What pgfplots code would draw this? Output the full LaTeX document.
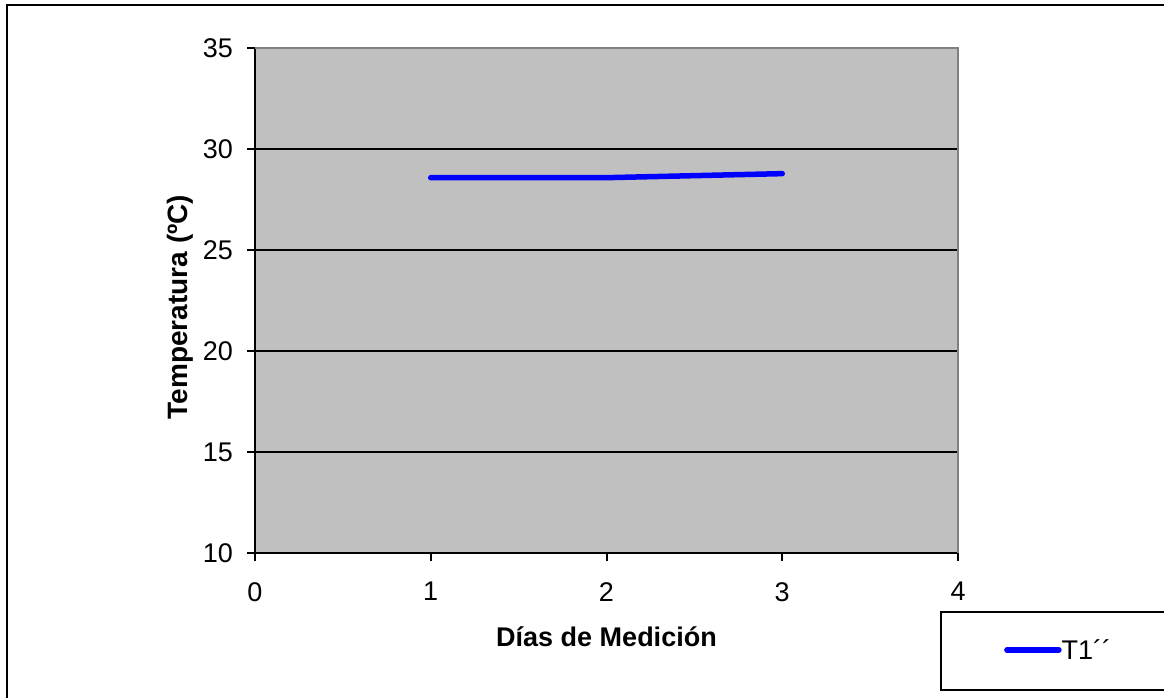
\documentclass[border=0pt]{standalone}
\usepackage{pgfplots}
\pgfplotsset{compat=1.18}
\usepackage{fontspec}
\setmainfont{Liberation Sans}
\definecolor{plotgray}{HTML}{C0C0C0}
\definecolor{bordergray}{HTML}{808080}
\begin{document}
\begin{tikzpicture}[x=1pt,y=1pt]
\useasboundingbox (0,0) rectangle (1164,698);
\fill[white] (0,0) rectangle (1164,698);
\draw[line width=2pt] (7,0) -- (7,693) -- (1164,693);
\draw[line width=2pt] (1164,86) -- (941,86) -- (941,8) -- (1164,8);
\begin{axis}[
  at={(255pt,145pt)}, anchor=south west,
  width=703pt, height=505pt, scale only axis,
  xmin=0, xmax=4, ymin=10, ymax=35,
  xtick={0,1,2,3,4}, ytick={10,15,20,25,30,35},
  axis lines*=left, axis line style={-, line width=2pt, black},
  tick align=outside, major tick length=8pt,
  tick style={line width=2pt, black},
  ymajorgrids, grid style={line width=1.2pt, black},
  axis background/.style={fill=plotgray},
  clip=false,
  /pgf/number format/assume math mode=true,
  ticklabel style={font=\fontsize{27}{32}\selectfont, inner sep=0pt},
  yticklabel style={anchor=east, xshift=-14pt},
  xticklabel style={anchor=north, yshift=-21pt},
  xlabel={Días de Medición}, ylabel={Temperatura (ºC)},
  label style={font=\bfseries\fontsize{27}{32}\selectfont},
  xlabel style={at={(rel axis cs:0.5,-0.1861)}, anchor=base},
  ylabel style={font=\bfseries\fontsize{28}{33}\selectfont, at={(rel axis cs:-0.0967,0.487)}, anchor=base},
  legend style={draw=none, fill=none, at={(rel axis cs:1.0654,-0.192)}, anchor=west,
    inner sep=0pt, nodes={inner sep=0pt}, font=\fontsize{27}{32}\selectfont,
    /tikz/every even column/.append style={column sep=4pt}},
  legend image code/.code={\draw[#1] (0pt,0pt) -- (52pt,0pt);},
]
\addplot[color=blue, line width=5.5pt, line cap=round] coordinates {(1,28.58) (2,28.58) (3,28.78)};
\addlegendentry{T1´´}
\draw[bordergray, line width=2pt] (rel axis cs:0,1) -- (rel axis cs:1,1) -- (rel axis cs:1,0);
\end{axis}
\end{tikzpicture}
\end{document}
